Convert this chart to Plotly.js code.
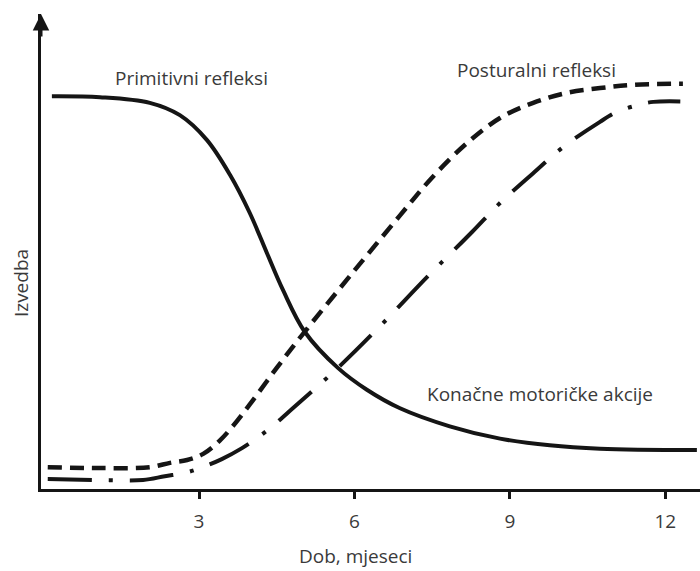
<!DOCTYPE html>
<html>
<head>
<meta charset="utf-8">
<script src="https://cdn.plot.ly/plotly-3.0.1.min.js"></script>
<style>html,body{margin:0;padding:0;background:#fff;}#chart{width:700px;height:571px;}</style>
</head>
<body>
<div id="chart"></div>
<script>
// Age in months and performance (arbitrary 0-100 scale)
var primitiveX = [0.16, 1.09, 2.05, 2.63, 3.15, 3.6, 3.98, 4.31, 4.62, 5.04, 5.68, 6.24, 6.88, 7.84, 8.81, 9.77, 10.74, 12.61];
var primitiveY = [82.7, 82.5, 81.3, 78.7, 73.5, 66.1, 58.1, 49.7, 41.9, 33.1, 25.5, 20.9, 17.0, 13.2, 10.6, 9.2, 8.5, 8.2];

var posturalX = [0.08, 1.09, 2.05, 2.44, 2.77, 3.08, 3.4, 3.65, 3.98, 4.5, 5.04, 5.91, 6.88, 7.51, 8.17, 8.81, 9.45, 10.1, 10.74, 11.38, 12.34];
var posturalY = [4.6, 4.4, 4.6, 5.5, 6.1, 7.4, 10.2, 13.2, 17.8, 25.5, 33.1, 44.8, 57.6, 65.7, 72.8, 78.1, 81.3, 83.4, 84.4, 85.1, 85.3];

var voluntaryX = [0.08, 1.09, 1.92, 2.34, 2.73, 3.02, 3.44, 3.83, 4.18, 4.5, 4.81, 5.68, 6.55, 7.4, 8.27, 8.81, 9.45, 10.03, 10.74, 11.07, 11.46, 11.77, 12.29];
var voluntaryY = [2.1, 1.9, 1.9, 2.7, 3.4, 4.4, 6.3, 8.6, 11.2, 14.0, 17.0, 25.5, 34.9, 44.6, 54.1, 60.2, 66.5, 72.0, 77.3, 79.4, 80.8, 81.5, 81.6];

var tickVals = [3, 6, 9, 12];
var tickText = ["3", "6", "9", "12"];

var labelPrimitive = "Primitivni refleksi";
var labelPostural = "Posturalni refleksi";
var labelVoluntary = "Konačne motoričke akcije";
var xTitle = "Dob, mjeseci";
var yTitle = "Izvedba";

var lineColor = "#151515";
var textColor = "#3a3a3a";
var font = "'Open Sans', 'Noto Sans', sans-serif";
var fs = 19;

var traces = [
  {x: primitiveX, y: primitiveY, mode: "lines", line: {color: lineColor, width: 4, shape: "spline", smoothing: 1}, name: labelPrimitive, hoverinfo: "skip"},
  {x: posturalX, y: posturalY, mode: "lines", line: {color: lineColor, width: 4.5, shape: "spline", smoothing: 1, dash: "14px,8px"}, name: labelPostural, hoverinfo: "skip"},
  {x: voluntaryX, y: voluntaryY, mode: "lines", line: {color: lineColor, width: 4, shape: "spline", smoothing: 1, dash: "44px,17px,4px,17px"}, name: labelVoluntary, hoverinfo: "skip"}
];

var layout = {
  width: 700, height: 571,
  margin: {l: 41, r: 0, t: 14, b: 82},
  paper_bgcolor: "#fff", plot_bgcolor: "#fff",
  showlegend: false,
  font: {family: font, color: textColor, size: fs},
  xaxis: {
    range: [-0.05, 12.67],
    showgrid: false, zeroline: false,
    showline: true, linecolor: lineColor, linewidth: 3,
    ticks: "outside", ticklen: 7, tickwidth: 3, tickcolor: lineColor,
    tickvals: tickVals, ticktext: tickText,
    ticklabelstandoff: 6,
    tickfont: {family: font, size: fs, color: textColor}
  },
  yaxis: {
    range: [0, 100],
    showgrid: false, zeroline: false,
    showline: true, linecolor: lineColor, linewidth: 3,
    showticklabels: false, ticks: ""
  },
  annotations: [
    {xref: "paper", yref: "paper", x: 0, y: 1.0, text: "", showarrow: true, ax: 0, ay: 24, arrowhead: 2, arrowsize: 1.1, arrowwidth: 3, arrowcolor: lineColor, standoff: 0},
    {xref: "x", yref: "y", x: 2.85, y: 86.6, text: labelPrimitive, showarrow: false, font: {family: font, size: fs, color: textColor}},
    {xref: "x", yref: "y", x: 9.52, y: 88.2, text: labelPostural, showarrow: false, font: {family: font, size: fs, color: textColor}},
    {xref: "x", yref: "y", x: 9.58, y: 20.0, text: labelVoluntary, showarrow: false, font: {family: font, size: fs, color: textColor}},
    {xref: "paper", yref: "paper", x: 0.477, y: -0.14, text: xTitle, showarrow: false, xanchor: "center", yanchor: "middle", borderpad: 0, font: {family: font, size: fs, color: textColor}},
    {xref: "paper", yref: "paper", x: -0.03, y: 0.434, text: yTitle, textangle: -90, showarrow: false, xanchor: "center", yanchor: "middle", font: {family: font, size: fs, color: textColor}}
  ]
};

Plotly.newPlot("chart", traces, layout, {staticPlot: true, displayModeBar: false});
</script>
</body>
</html>
